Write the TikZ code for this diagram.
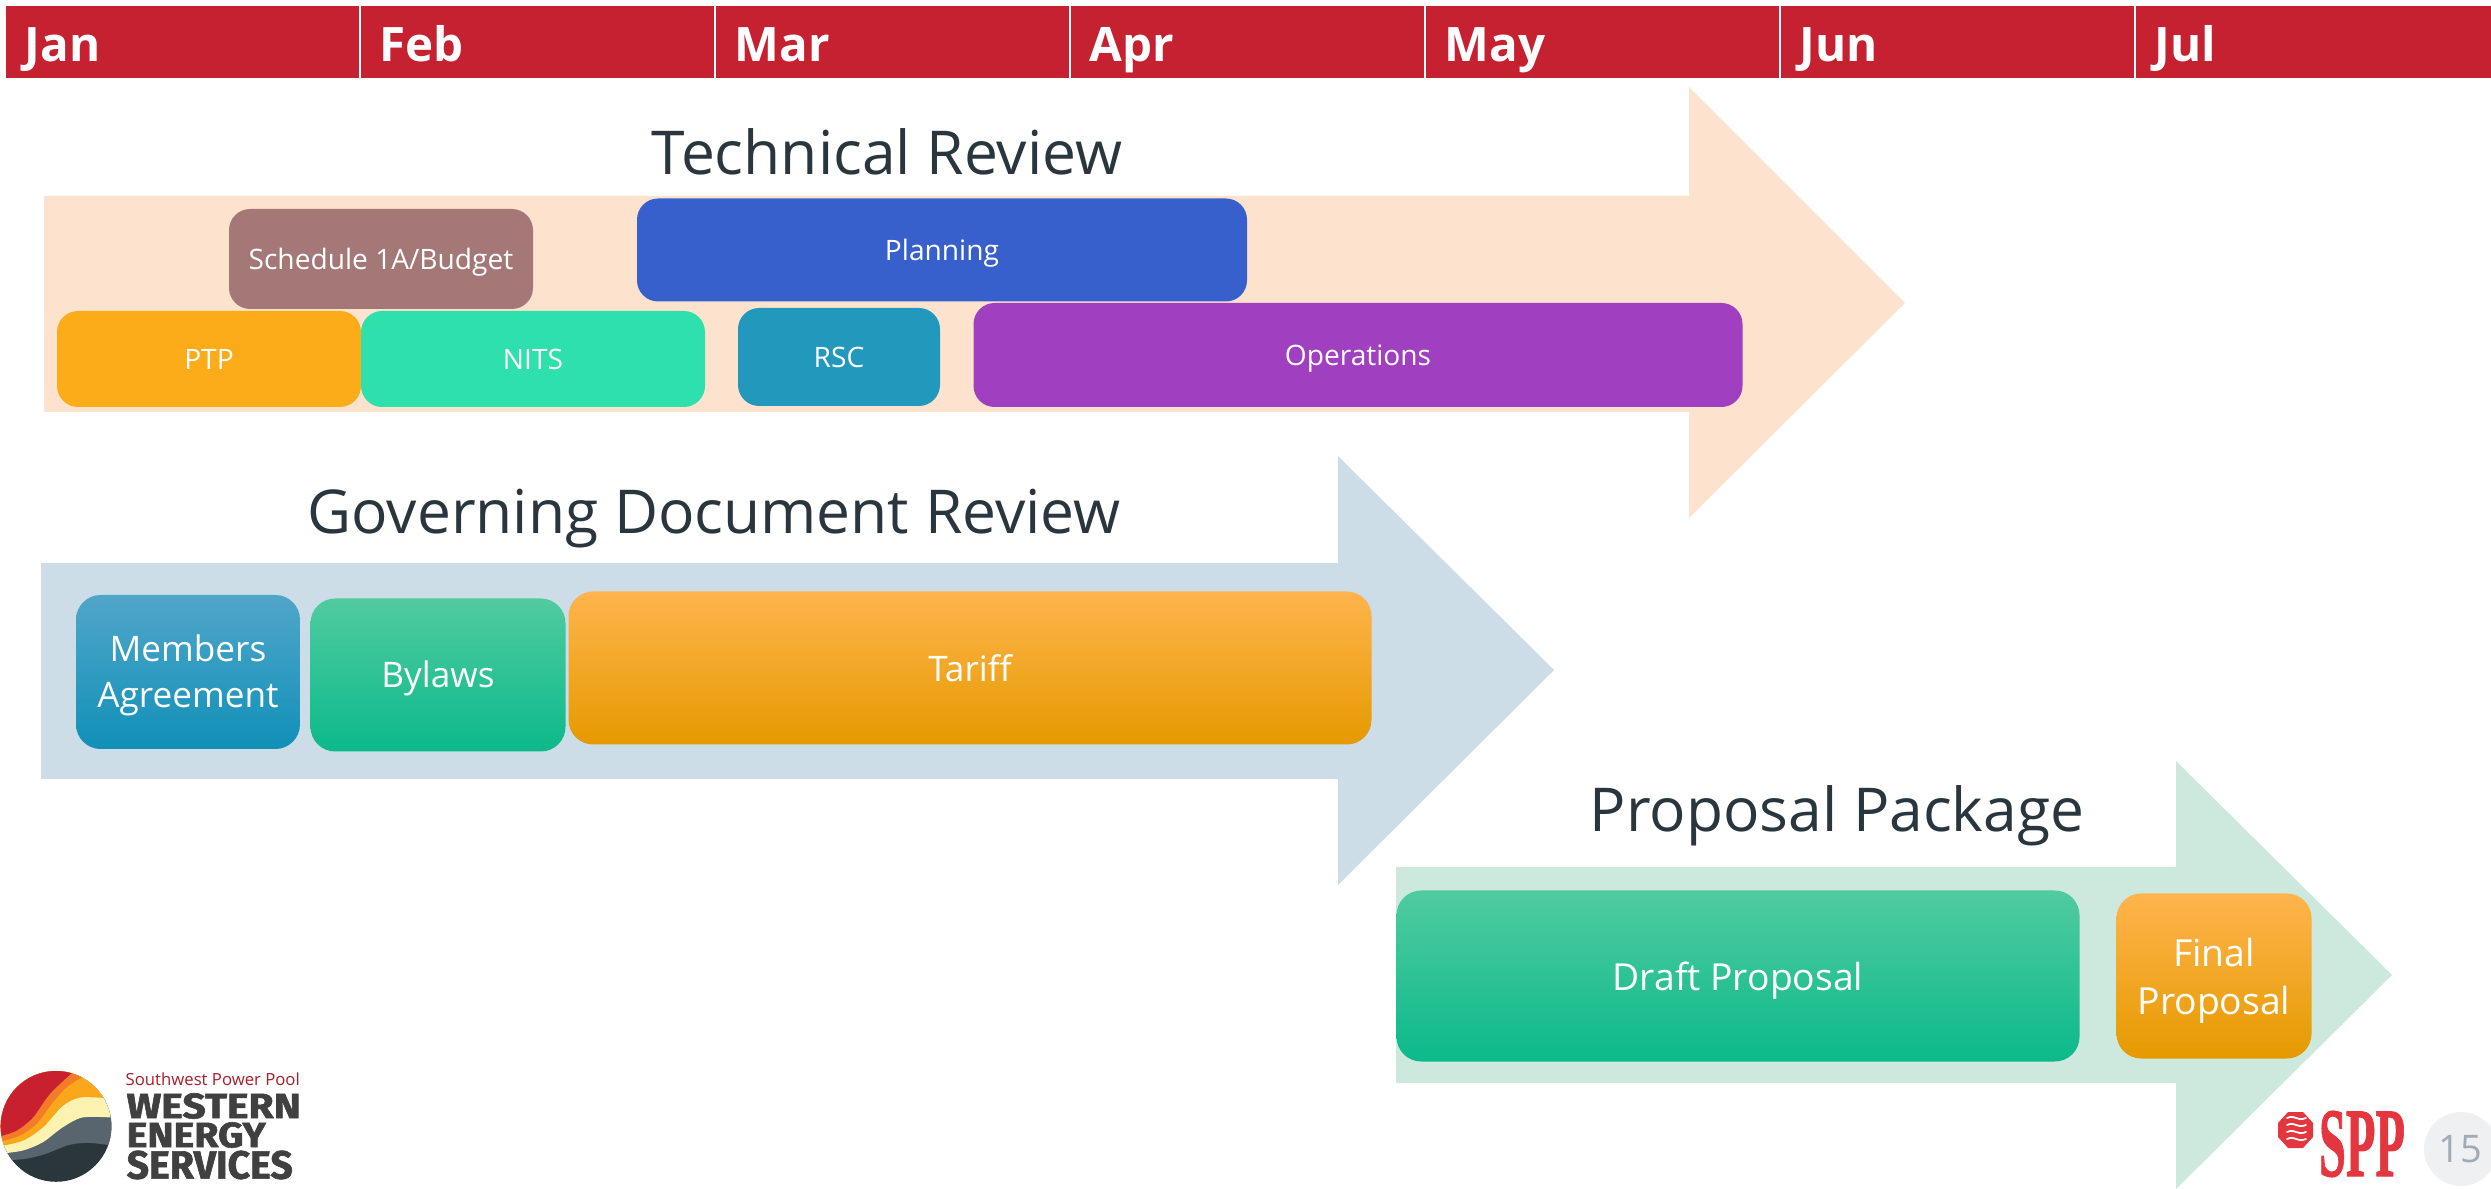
\documentclass[tikz,border=0pt]{standalone}
\usepackage{fontspec}
\usepackage{graphicx}
\setmainfont{Open Sans}
\newfontfamily\heavyfont[FakeBold=1.6]{Fira Sans Bold}
\newfontfamily\sppfont[FakeBold=1.2]{Liberation Serif Bold}
\definecolor{headred}{HTML}{C62130}
\definecolor{titlegray}{HTML}{2A363D}
\definecolor{techbg}{HTML}{FDE3CD}
\definecolor{govbg}{HTML}{CCDDE8}
\definecolor{propbg}{HTML}{CDE9DD}
\definecolor{schedcol}{HTML}{A57878}
\definecolor{plancol}{HTML}{3860CC}
\definecolor{ptpcol}{HTML}{FCAC19}
\definecolor{nitscol}{HTML}{2DE0AC}
\definecolor{rsccol}{HTML}{2299BC}
\definecolor{opscol}{HTML}{A040C0}
\definecolor{bluetop}{HTML}{50A6C9}
\definecolor{bluemid}{HTML}{1F9FC7}
\definecolor{bluelow}{HTML}{1190B8}
\definecolor{greentop}{HTML}{50CBA0}
\definecolor{greenmid}{HTML}{1FC996}
\definecolor{greenlow}{HTML}{0CB98A}
\definecolor{ambertop}{HTML}{FFB44D}
\definecolor{ambermid}{HTML}{FFAB0C}
\definecolor{amberlow}{HTML}{E59A00}
\definecolor{logored}{HTML}{C8202F}
\definecolor{logoorange}{HTML}{F47B28}
\definecolor{logoamber}{HTML}{FBA71B}
\definecolor{logocream}{HTML}{FBF3AF}
\definecolor{logogray}{HTML}{58656E}
\definecolor{logodark}{HTML}{2B363C}
\definecolor{sppred}{HTML}{E4363F}
\definecolor{pagebg}{HTML}{EEF0F2}
\definecolor{pagetext}{HTML}{A0ABB5}
\tikzset{
	wh/.style 2 args={minimum width=#1*0.01cm,minimum height=#2*0.01cm},
	month/.style={fill=headred,text=white,font=\bfseries\fontsize{13.5}{16}\selectfont,inner sep=0pt},
	review/.style={text=titlegray,font=\fontsize{17.2}{20}\selectfont,inner sep=0pt},
	task/.style={rounded corners=6pt,text=white,inner sep=0pt,align=center,font=\fontsize{8}{10}\selectfont},
	lowered/.style={text height=#1,text depth=2.2pt},
	govtask/.style={task,rounded corners=7pt,font=\fontsize{10}{13}\selectfont},
	proptask/.style={task,rounded corners=7pt,font=\fontsize{10.6}{13.6}\selectfont},
	bluegrad/.style={top color=bluetop,middle color=bluemid,bottom color=bluelow},
	greengrad/.style={top color=greentop,middle color=greenmid,bottom color=greenlow},
	ambergrad/.style={top color=ambertop,middle color=ambermid,bottom color=amberlow},
	logotext/.style={anchor=west,inner sep=0pt,text=black!75,font=\heavyfont},
}
\begin{document}
\begin{tikzpicture}[x=0.01cm,y=-0.01cm,line join=round,line cap=round]
	\useasboundingbox (0,0) rectangle (2491,1189);
	% months
	\foreach \m/\xa/\xb/\nm in {Jan/6/359/jan,Feb/361/714/feb,Mar/716/1069/mar,Apr/1071/1424/apr,May/1426/1779/may,Jun/1781/2134/jun,Jul/2136/2491/jul}{
		\fill[headred] (\xa,6)rectangle(\xb,78);
		\node[month,anchor=base west] (\nm) at (\xa+18,62){\m};
	}
	% big arrows
	\fill[techbg] (44,196)--(1689,196)--(1689,87)--(1905,303)--(1689,518)--(1689,412)--(44,412)--cycle;
	\fill[govbg] (41,563)--(1338,563)--(1338,456)--(1554,670)--(1338,885)--(1338,779)--(41,779)--cycle;
	\fill[propbg] (1396,867)--(2176,867)--(2176,761)--(2392,975)--(2176,1189)--(2176,1083)--(1396,1083)--cycle;
	\node[review] (technical) at (887,152){Technical Review};
	\node[review] (governing) at (714,519){Governing Document Review};
	\node[review] (proposal) at (1837,816){Proposal Package};
	% technical review
	\node[task,lowered=8.2pt,fill=schedcol,wh={304}{100}] (schedule) at (381,259){Schedule 1A/Budget};
	\node[task,lowered=8.2pt,fill=plancol,wh={610}{103}] (planning) at (942,250){Planning};
	\node[task,fill=ptpcol,wh={304}{96}] (ptp) at (209,359){PTP};
	\node[task,fill=nitscol,wh={344}{96}] (nits) at (533,359){NITS};
	\node[task,fill=rsccol,wh={202}{98}] (rsc) at (839,357){RSC};
	\node[task,lowered=8.2pt,fill=opscol,wh={769}{104}] (operations) at (1358,355){Operations};
	% governing documents
	\node[govtask,bluegrad,wh={224}{154}] (members) at (188,672){\rule{0pt}{9.4pt}Members\\Agreement};
	\node[govtask,lowered=9.2pt,greengrad,wh={255}{153}] (bylaws) at (438,675){Bylaws};
	\node[govtask,ambergrad,wh={803}{153}] (tariff) at (970,668){Tariff};
	% proposal
	\node[proptask,lowered=10.6pt,greengrad,wh={683}{171}] (draft) at (1738,976){Draft Proposal};
	\node[proptask,ambergrad,wh={195}{165}] (final) at (2214,976){\rule{0pt}{10.8pt}Final\\Proposal};
	% wes logo
	\begin{scope}[shift={(0,1040)},x=0.0033cm,y=-0.0033cm]
		\clip (170,262) circle (168);
		\fill[logodark] (0,90)rectangle(340,435);
		\fill[logogray] plot[smooth] coordinates{(0,366)(20,365)(80,360)(140,345)(210,318)(270,312)(340,320)}--(340,90)--(0,90)--cycle;
		\fill[logocream] plot[smooth] coordinates{(0,345)(70,335)(130,310)(190,265)(250,235)(340,235)}--(340,90)--(0,90)--cycle;
		\fill[logoamber] plot[smooth] coordinates{(0,322)(70,305)(130,265)(190,200)(240,175)(305,175)(340,178)}--(340,90)--(0,90)--cycle;
		\fill[logoorange] plot[smooth] coordinates{(0,308)(60,290)(110,255)(160,190)(200,145)(250,112)(300,90)}--(0,90)--cycle;
		\fill[logored] plot[smooth] coordinates{(0,292)(50,275)(100,235)(150,165)(218,100)(240,85)}--(0,85)--cycle;
	\end{scope}
	\node[anchor=west,inner sep=0pt,text=logored!85!black] (southwest) at (125,1079){\resizebox{1.74cm}{!}{Southwest Power Pool}};
	\node[logotext] (western) at (126,1106){\resizebox{1.74cm}{0.25cm}{WESTERN}};
	\node[logotext] (energy) at (126,1135){\resizebox{1.39cm}{0.25cm}{ENERGY}};
	\node[logotext] (services) at (126,1165){\resizebox{1.66cm}{0.28cm}{SERVICES}};
	% spp logo
	\fill[sppred] (2278,1123)--(2288,1112)--(2303,1112)--(2313,1123)--(2313,1137)--(2303,1148)--(2288,1148)--(2278,1137)--cycle;
	\foreach \d in {0,7,14,21}{
		\draw[white,line width=0.5pt] (2287,1118+\d)..controls(2296,1114+\d)and(2296,1122+\d)..(2306,1118+\d);
	}
	\node[inner sep=0pt,text=sppred] (spp) at (2362,1144){\resizebox{0.86cm}{0.65cm}{\sppfont SPP}};
	% page number
	\fill[pagebg] (2461,1149) circle (37);
	\node[text=pagetext,font=\fontsize{10.8}{12}\selectfont,inner sep=0pt] (page) at (2460,1149){15};
\end{tikzpicture}
\end{document}
